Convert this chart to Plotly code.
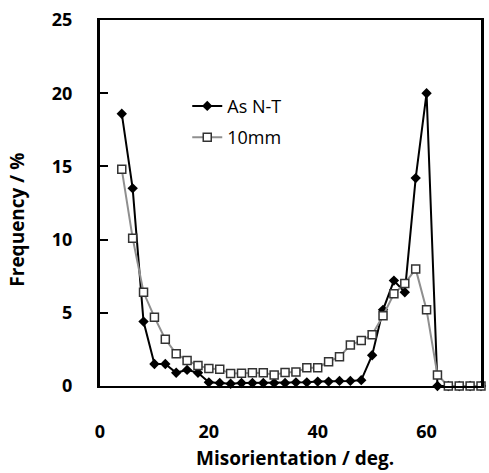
import plotly.graph_objects as go

angles = [4, 6, 8, 10, 12, 14, 16, 18, 20, 22, 24, 26, 28, 30, 32, 34, 36, 38,
          40, 42, 44, 46, 48, 50, 52, 54, 56, 58, 60, 62, 64, 66, 68, 70]
as_nt = [18.6, 13.5, 4.4, 1.5, 1.5, 0.9, 1.1, 0.9, 0.25, 0.2, 0.15, 0.2, 0.2, 0.2,
         0.2, 0.2, 0.25, 0.25, 0.3, 0.3, 0.35, 0.35, 0.4, 2.1, 5.2, 7.2, 6.4, 14.2,
         20.0, 0.0, 0.0, 0.0, 0.0, 0.0]
mm10 = [14.8, 10.1, 6.4, 4.7, 3.2, 2.2, 1.75, 1.4, 1.2, 1.15, 0.85, 0.87, 0.9, 0.9,
        0.75, 0.93, 0.95, 1.25, 1.25, 1.66, 2.0, 2.8, 3.1, 3.5, 4.8, 6.3, 7.0, 8.0,
        5.2, 0.75, 0.0, 0.0, 0.0, 0.0]
x_ticks = [0, 20, 40, 60]
y_ticks = [0, 5, 10, 15, 20, 25]

FONT = "Open Sans"

fig = go.Figure()
fig.add_trace(go.Scatter(
    x=angles, y=as_nt, name="As N-T", mode="lines+markers", legendgroup="a",
    line=dict(color="black", width=2),
    marker=dict(symbol="diamond", size=8, color="black"),
    cliponaxis=False,
))
fig.add_trace(go.Scatter(
    x=angles, y=mm10, name="10mm", mode="lines+markers", legendgroup="b",
    line=dict(color="#8f8f8f", width=2),
    marker=dict(symbol="square", size=8, color="white",
                line=dict(color="#333333", width=1.5)),
    cliponaxis=False,
))

h_plot = 473 - 20 - 87
w_plot = 489 - 100 - 5

fig.update_layout(
    width=489, height=473,
    margin=dict(l=100, r=5, t=20, b=87),
    paper_bgcolor="white", plot_bgcolor="white",
    font=dict(family=FONT, color="black"),
    showlegend=True,
    legend=dict(x=0.229, y=0.815, xanchor="left", yanchor="top",
                bgcolor="rgba(0,0,0,0)", font=dict(size=18, family=FONT),
                tracegroupgap=5, itemwidth=30),
    xaxis=dict(range=[0, 70], tickvals=x_ticks, ticks="", showgrid=False,
               zeroline=False, showline=True, linecolor="black", linewidth=2,
               mirror=True, ticklabelstandoff=28,
               tickfont=dict(size=18, family=FONT, weight="bold")),
    yaxis=dict(range=[0, 25], tickvals=y_ticks, ticks="inside", ticklen=8,
               tickwidth=2, tickcolor="black", showgrid=False, zeroline=False,
               showline=True, linecolor="black", linewidth=3, mirror=True,
               ticklabelstandoff=21,
               tickfont=dict(size=18, family=FONT, weight="bold")),
    annotations=[
        dict(text="Misorientation / deg.", x=(297 - 100) / w_plot,
             y=(386 - 458) / h_plot, xref="paper", yref="paper",
             xanchor="center", yanchor="middle", showarrow=False,
             font=dict(size=19, family=FONT, weight="bold")),
        dict(text="Frequency / %", x=(16 - 100) / w_plot, y=(386 - 220) / h_plot,
             xref="paper", yref="paper", xanchor="center", yanchor="middle",
             showarrow=False, textangle=-90,
             font=dict(size=19, family=FONT, weight="bold")),
    ],
)

fig.write_html("out.html")
